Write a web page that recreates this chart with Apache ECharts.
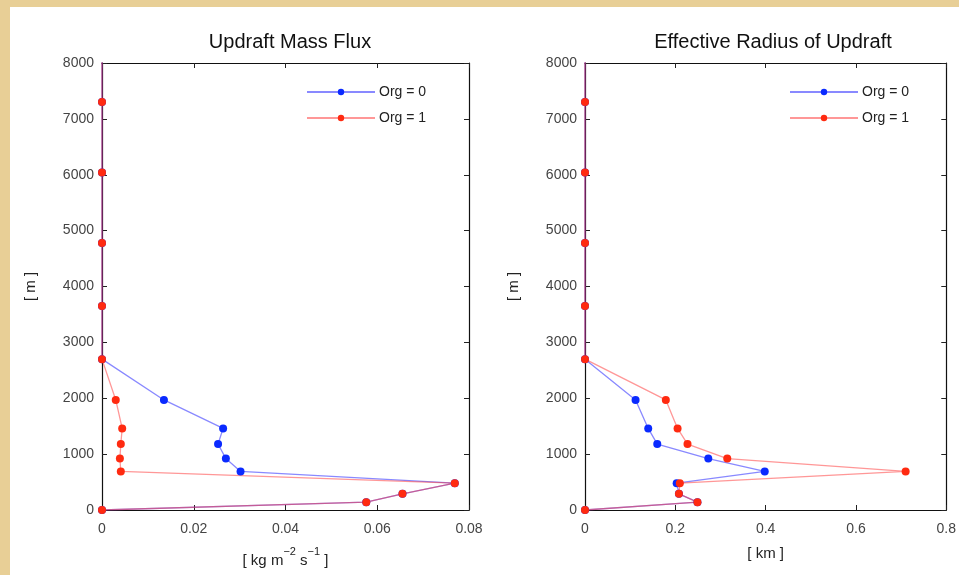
<!DOCTYPE html>
<html>
<head>
<meta charset="utf-8">
<script src="https://cdn.jsdelivr.net/npm/echarts@6/dist/echarts.min.js"></script>
<style>
html,body{margin:0;padding:0;background:#e8cf96;}
#c{width:959px;height:575px;}
</style>
</head>
<body>
<div id="c"></div>
<script>
// Heights of model levels [m]
var heights = [0, 140, 290, 480, 690, 920, 1180, 1460, 1970, 2700, 3650, 4780, 6040, 7300, 8700];
// Updraft mass flux [kg m-2 s-1]
var fluxOrg0 = [0, 0.0576, 0.0655, 0.0769, 0.0302, 0.0270, 0.0253, 0.0264, 0.0135, 0, 0, 0, 0, 0, 0];
var fluxOrg1 = [0, 0.0576, 0.0655, 0.0769, 0.0041, 0.0039, 0.0041, 0.0044, 0.0030, 0, 0, 0, 0, 0, 0];
// Effective radius of updraft [km]
var radOrg0 = [0, 0.249, 0.208, 0.203, 0.398, 0.273, 0.160, 0.140, 0.112, 0, 0, 0, 0, 0, 0];
var radOrg1 = [0, 0.249, 0.208, 0.210, 0.710, 0.315, 0.227, 0.205, 0.179, 0, 0, 0, 0, 0, 0];
var seriesNames = ['Org = 0', 'Org = 1'];
var titles = ['Updraft Mass Flux', 'Effective Radius of Updraft'];
var xTicks1 = [0, 0.02, 0.04, 0.06, 0.08];
var xTicks2 = [0, 0.2, 0.4, 0.6, 0.8];
var yTicks = [0, 1000, 2000, 3000, 4000, 5000, 6000, 7000, 8000];

function pairs(xs){ return xs.map(function(v,i){ return [v, heights[i]]; }); }
function fmt(ticks){ return function(v){ for(var i=0;i<ticks.length;i++){ if(Math.abs(ticks[i]-v)<1e-9) return String(ticks[i]); } return ''; }; }

var FONT = 'Liberation Sans';
var chart = echarts.init(document.getElementById('c'));

var grids = [
  {left:102, top:63, width:367, height:447},
  {left:585, top:63, width:366, height:447}
];
var tickStyle = {show:true, inside:true, length:5, lineStyle:{color:'#222', width:1}};
var lineAx = {show:true, onZero:false, lineStyle:{color:'#111', width:1.2}};

var xAxes = [], yAxes = [];
[[0.08,0.02,xTicks1,'{a|[ kg m}{s|−2}{a| s}{s|−1}{a| ]}'],[0.8,0.2,xTicks2,'[ km ]']].forEach(function(cfg, g){
  xAxes.push({type:'value', gridIndex:g, min:0, max:cfg[0], interval:cfg[1], position:'bottom',
    axisLine:lineAx, axisTick:tickStyle, splitLine:{show:false},
    axisLabel:{color:'#444', fontFamily:FONT, fontSize:14, margin:12, formatter:fmt(cfg[2])},
    name:cfg[3], nameLocation:'middle', nameGap:36,
    nameTextStyle:{color:'#222', fontFamily:FONT, fontSize:15,
      rich:{a:{fontSize:15, fontFamily:FONT, color:'#222', lineHeight:22, verticalAlign:'bottom'},
            s:{fontSize:11, fontFamily:FONT, color:'#222', lineHeight:22, verticalAlign:'top', padding:[0,0,8,0]}}}
  });
  xAxes.push({type:'value', gridIndex:g, min:0, max:cfg[0], interval:cfg[1], position:'top',
    axisLine:lineAx, axisTick:tickStyle, axisLabel:{show:false}, splitLine:{show:false}});
  yAxes.push({type:'value', gridIndex:g, min:0, max:8000, interval:1000, position:'left',
    axisLine:lineAx, axisTick:tickStyle, splitLine:{show:false},
    axisLabel:{color:'#444', fontFamily:FONT, fontSize:14, margin:8, formatter:fmt(yTicks)},
    name:'[ m ]', nameLocation:'middle', nameGap:64, nameRotate:90,
    nameTextStyle:{color:'#222', fontFamily:FONT, fontSize:15}
  });
  yAxes.push({type:'value', gridIndex:g, min:0, max:8000, interval:1000, position:'right',
    axisLine:lineAx, axisTick:tickStyle, axisLabel:{show:false}, splitLine:{show:false}});
});

function mk(name, data, xi, yi, color, lineColor, op){
  return {type:'line', name:name, xAxisIndex:xi, yAxisIndex:yi, data:pairs(data),
    symbol:'circle', symbolSize:8, clip:true,
    itemStyle:{color:color}, lineStyle:{color:lineColor, width:1.3, opacity:op},
    emphasis:{disabled:true}, animation:false, z:2};
}

var option = {
  animation:false,
  backgroundColor:'#e8cf96',
  graphic:[{type:'rect', shape:{x:10, y:7, width:949, height:568}, style:{fill:'#ffffff'}, z:-10, silent:true}],
  title:[
    {text:titles[0], left:285, top:27, textAlign:'center', textStyle:{fontFamily:FONT, fontSize:20, fontWeight:'normal', color:'#111'}},
    {text:titles[1], left:768, top:27, textAlign:'center', textStyle:{fontFamily:FONT, fontSize:20, fontWeight:'normal', color:'#111'}}
  ],
  legend:[
    {left:306, top:85, padding:0, orient:'vertical', itemWidth:68, itemHeight:8, itemGap:12, data:seriesNames,
     textStyle:{fontFamily:FONT, fontSize:14, color:'#222', padding:[0,0,0,-1]}, selectedMode:false},
    {left:789, top:85, padding:0, orient:'vertical', itemWidth:68, itemHeight:8, itemGap:12, data:seriesNames,
     textStyle:{fontFamily:FONT, fontSize:14, color:'#222', padding:[0,0,0,-1]}, selectedMode:false}
  ],
  grid:grids,
  xAxis:xAxes,
  yAxis:yAxes,
  series:[
    mk(seriesNames[0], fluxOrg0, 0, 0, '#0a2aff', '#3a3aff', 0.6),
    mk(seriesNames[1], fluxOrg1, 0, 0, '#ff2a10', '#ff3030', 0.5),
    mk(seriesNames[0], radOrg0, 2, 2, '#0a2aff', '#3a3aff', 0.6),
    mk(seriesNames[1], radOrg1, 2, 2, '#ff2a10', '#ff3030', 0.5)
  ]
};
chart.setOption(option);
</script>
</body>
</html>
